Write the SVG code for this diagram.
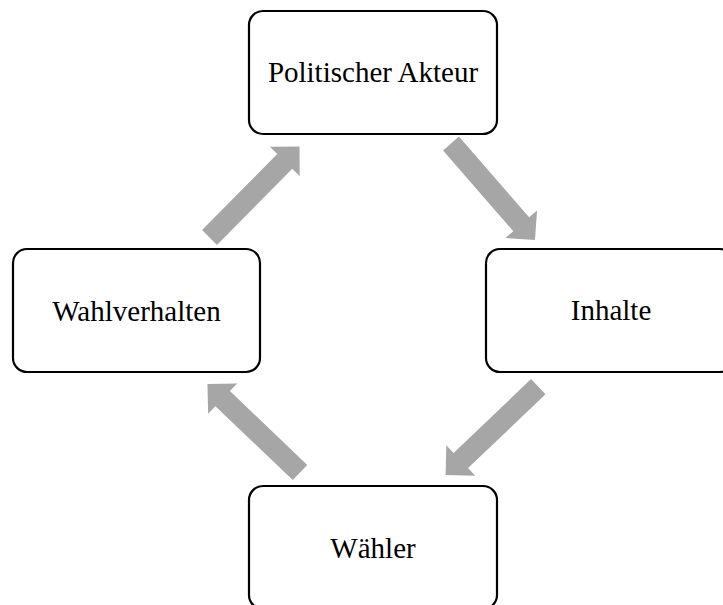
<svg xmlns="http://www.w3.org/2000/svg" width="723" height="605" viewBox="0 0 723 605">
<defs>
<style>
.box{fill:#ffffff;stroke:#000000;stroke-width:2.2}
.lbl{font-family:"Liberation Serif","Times New Roman",serif;font-size:29px;fill:#000000;text-anchor:middle}
.arr{fill:#a6a6a6;stroke:none}
</style>
<path id="blk" d="M0,-10.5 L107,-10.5 L107,-21 L128,0 L107,21 L107,10.5 L0,10.5 Z"/>
</defs>
<rect width="723" height="605" fill="#ffffff"/>
<g id="connectors">
<use href="#blk" class="arr" transform="translate(209.5,237.5) rotate(-45.3)"/>
<use href="#blk" class="arr" transform="translate(451,143.5) rotate(49)"/>
<use href="#blk" class="arr" transform="translate(538.3,386.7) rotate(136.4)"/>
<use href="#blk" class="arr" transform="translate(300,472.5) rotate(-136.3)"/>
</g>
<g id="politischer-akteur">
<rect class="box" x="249" y="11" width="248" height="123" rx="14"/>
<text class="lbl" x="373" y="82">Politischer Akteur</text>
</g>
<g id="inhalte">
<rect class="box" x="486" y="249" width="248" height="123" rx="14"/>
<text class="lbl" x="611" y="320">Inhalte</text>
</g>
<g id="waehler">
<rect class="box" x="249" y="486" width="248" height="123" rx="14"/>
<text class="lbl" x="373" y="558">Wähler</text>
</g>
<g id="wahlverhalten">
<rect class="box" x="13" y="249" width="247" height="123" rx="14"/>
<text class="lbl" x="136.5" y="321">Wahlverhalten</text>
</g>
</svg>
